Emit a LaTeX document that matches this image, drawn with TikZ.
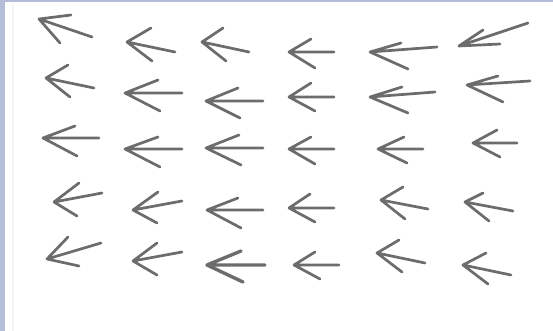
\documentclass[tikz,border=0pt]{standalone}
\usepackage{tikz}

\definecolor{frameblue}{RGB}{181,189,216}
\definecolor{penGray}{RGB}{108,108,108}

\begin{document}
\begin{tikzpicture}[
    x=1pt, y=-1pt,
    stroke/.style={draw=penGray,line width=2.7pt,line cap=round,line join=round},
    heavy/.style={stroke,line width=3.4pt},
  ]

  % page: lavender strip on the left and top, white field
  \fill[frameblue] (0,0) rectangle (553,331);
  \fill[white] (5,2) rectangle (553,331);
  \fill[black!4] (12,2) rectangle (13.5,331);
  \useasboundingbox (0,0) rectangle (553,331);

  % each arrow: tail -- tip -- upper barb, tip -- lower barb

  % --- row 1 ---
  \draw[stroke] (92,37)  -- (39,19)  -- (71,15)  (39,19)  -- (60,43);
  \draw[stroke] (175,52) -- (127,42) -- (151,28) (127,42) -- (152,61);
  \draw[stroke] (249,52) -- (202,42) -- (223,28) (202,42) -- (226,61);
  \draw[stroke] (334,52) -- (289,52) -- (311,39) (289,52) -- (315,68);
  \draw[stroke] (437,47) -- (370,52) -- (401,43) (370,52) -- (408,69);
  \draw[stroke] (528,23) -- (459,46) -- (483,30) (459,46) -- (500,44);

  % --- row 2 ---
  \draw[stroke] (94,88)   -- (46,78)   -- (68,65)  (46,78)   -- (70,97);
  \draw[stroke] (182,93)  -- (125,93)  -- (158,80) (125,93)  -- (160,111);
  \draw[stroke] (263,101) -- (206,101) -- (238,88) (206,101) -- (240,118);
  \draw[stroke] (334,97)  -- (289,97)  -- (311,83) (289,97)  -- (315,111);
  \draw[stroke] (435,92)  -- (370,97)  -- (402,87) (370,97)  -- (408,113);
  \draw[stroke] (530,81)  -- (467,85)  -- (498,76) (467,85)  -- (503,102);

  % --- row 3 ---
  \draw[stroke] (99,138)  -- (43,138)  -- (75,126)  (43,138)  -- (77,156);
  \draw[stroke] (182,149) -- (125,149) -- (158,137) (125,149) -- (160,167);
  \draw[stroke] (263,148) -- (206,148) -- (239,135) (206,148) -- (241,165);
  \draw[stroke] (334,149) -- (289,149) -- (311,137) (289,149) -- (315,164);
  \draw[stroke] (423,149) -- (378,149) -- (404,137) (378,149) -- (407,163);
  \draw[stroke] (517,143) -- (473,143) -- (497,130) (473,143) -- (500,157);

  % --- row 4 ---
  \draw[stroke] (102,193) -- (54,202)  -- (79,183)  (54,202)  -- (77,216);
  \draw[stroke] (182,201) -- (133,210) -- (158,192) (133,210) -- (157,223);
  \draw[stroke] (263,210) -- (207,210) -- (238,198) (207,210) -- (241,228);
  \draw[stroke] (334,208) -- (289,208) -- (310,194) (289,208) -- (315,222);
  \draw[stroke] (428,209) -- (381,200) -- (403,187) (381,200) -- (405,219);
  \draw[stroke] (513,211) -- (465,202) -- (483,193) (465,202) -- (489,221);

  % --- row 5 ---
  \draw[stroke] (101,243) -- (47,259)  -- (68,237)  (47,259)  -- (79,266);
  \draw[stroke] (182,252) -- (133,261) -- (157,243) (133,261) -- (157,275);
  \draw[heavy]  (265,265) -- (207,265) -- (241,251) (207,265) -- (243,282);
  \draw[stroke] (339,265) -- (294,265) -- (315,252) (294,265) -- (320,279);
  \draw[stroke] (425,263) -- (377,253) -- (399,240) (377,253) -- (402,272);
  \draw[stroke] (511,275) -- (463,265) -- (486,253) (463,265) -- (488,284);

\end{tikzpicture}
\end{document}
